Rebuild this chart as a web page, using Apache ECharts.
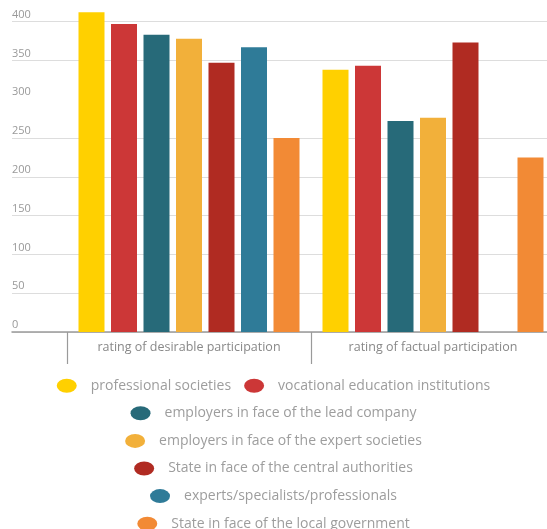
<!DOCTYPE html>
<html>
<head>
<meta charset="utf-8">
<script src="https://cdn.jsdelivr.net/npm/echarts@6/dist/echarts.min.js"></script>
<style>
  html, body { margin: 0; padding: 0; background: #fff; }
  #chart { width: 547px; height: 529px; }
</style>
</head>
<body>
<div id="chart"></div>
<script>
const categories = ["rating of desirable participation", "rating of factual participation"];
const seriesNames = [
  "professional societies",
  "vocational education institutions",
  "employers in face of the lead company",
  "employers in face of the expert societies",
  "State in face of the central authorities",
  "experts/specialists/professionals",
  "State in face of the local government"
];
const professionalSocieties = [412, 338];
const vocationalInstitutions = [397, 343];
const employersLeadCompany = [383, 272];
const employersExpertSocieties = [378, 276];
const stateCentral = [347, 373];
const experts = [367, null];
const stateLocal = [250, 225];
const yTicks = [0, 50, 100, 150, 200, 250, 300, 350, 400];

const colors = ["#ffd000", "#cc3737", "#276a79", "#f2b03a", "#b02b22", "#2f7b98", "#f28a35"];
const values = [professionalSocieties, vocationalInstitutions, employersLeadCompany,
  employersExpertSocieties, stateCentral, experts, stateLocal];

const chart = echarts.init(document.getElementById("chart"));

// one legend per row, each centred on its own
const legendRows = [[0, 1], [2], [3], [4], [5], [6]];
const legends = legendRows.map(function (row, i) {
  return {
    data: row.map(function (k) { return seriesNames[k]; }),
    top: 378.7 + i * 27.6,
    left: "center",
    padding: 0,
    icon: "path://M0,50 A50,50 0 1,1 100,50 A50,50 0 1,1 0,50 Z",
    symbolKeepAspect: false,
    itemWidth: 20,
    itemHeight: 14,
    itemGap: 13,
    selectedMode: false,
    textStyle: { color: "#9d9d9d", fontSize: 14, fontFamily: "Open Sans", padding: [0, 0, 0, 9] }
  };
});

const option = {
  animation: false,
  legend: legends,
  grid: [
    { left: 12, right: 0, top: 21.6, bottom: 197, outerBoundsMode: "none" },
    { left: 67, width: 488, top: 21.6, bottom: 197, outerBoundsMode: "none" }
  ],
  xAxis: [
    {
      gridIndex: 0, type: "category", data: [""],
      axisLine: { lineStyle: { color: "#9a9a9a", width: 1.5 } },
      axisTick: { show: false }, axisLabel: { show: false }
    },
    {
      gridIndex: 1, type: "category", data: categories,
      axisLine: { show: false },
      axisTick: { show: true, length: 32, lineStyle: { color: "#9a9a9a", width: 1.2 } },
      axisLabel: { color: "#888", fontSize: 12.5, fontFamily: "Open Sans", margin: 9 }
    }
  ],
  yAxis: [
    {
      gridIndex: 0, type: "value", min: yTicks[0], max: yTicks[yTicks.length - 1], interval: 50,
      axisLine: { show: false }, axisTick: { show: false },
      axisLabel: {
        inside: true, margin: 0, align: "left", verticalAlign: "bottom",
        color: "#999", fontSize: 11, fontFamily: "Open Sans", lineHeight: 12, padding: [0, 0, 1, 0]
      },
      splitLine: { lineStyle: { color: ["#ddd", "#ddd", "#ddd", "#ddd", "#ddd", "#ddd", "rgba(0,0,0,0)", "#ddd", "#ddd"], width: 1.2 } }
    },
    {
      gridIndex: 1, type: "value", min: yTicks[0], max: yTicks[yTicks.length - 1], interval: 50,
      show: false, splitLine: { show: false }
    }
  ],
  series: seriesNames.map(function (name, k) {
    return {
      name: name,
      type: "bar",
      xAxisIndex: 1,
      yAxisIndex: 1,
      data: values[k],
      barWidth: 26,
      barGap: "25%",
      clip: false,
      itemStyle: { color: colors[k] }
    };
  })
};
chart.setOption(option);
</script>
</body>
</html>
